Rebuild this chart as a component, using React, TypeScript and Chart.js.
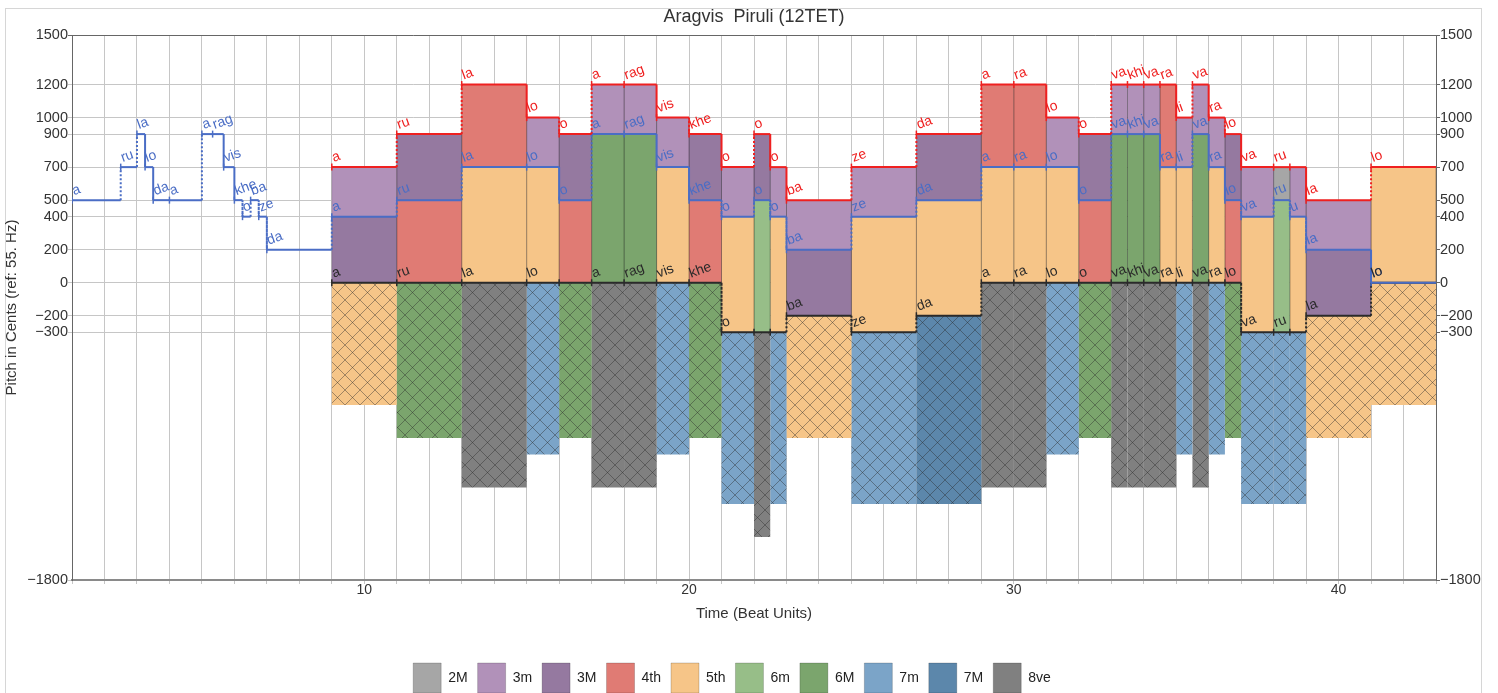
import React, { useEffect, useRef } from 'react';
import { Chart, registerables } from 'chart.js';

Chart.register(...registerables);

const FONT = '"Liberation Sans", Arial, Helvetica, sans-serif';

// ---------- data ----------
const titleText = 'Aragvis  Piruli (12TET)';

// solo melody (blue voice) before the three-voice part
const melodySyllables = ['a', 'ru', 'la', 'lo', 'da', 'a', 'a', 'rag', 'vis', 'khe', 'o', 'ba', 'ze', 'da'];
const melodyStarts = [1, 2.5, 3, 3.25, 3.5, 4, 5, 5.33, 5.67, 6, 6.25, 6.5, 6.75, 7];
const melodyCents = [500, 700, 900, 700, 500, 500, 900, 900, 700, 500, 400, 500, 400, 200];

// three-voice part
const harmonyStarts = [9, 11, 13, 15, 16, 17, 18, 19, 20, 21, 22, 22.5, 23, 25, 27, 29, 30, 31, 32, 33, 33.5, 34, 34.5, 35, 35.5, 36, 36.5, 37, 38, 38.5, 39, 41];
const harmonyEnd = 43;
const topSyllables = ['a', 'ru', 'la', 'lo', 'o', 'a', 'rag', 'vis', 'khe', 'o', 'o', 'o', 'ba', 'ze', 'da', 'a', 'ra', 'lo', 'o', 'va', 'khi', 'va', 'ra', 'li', 'va', 'ra', 'lo', 'va', 'ru', '', 'la', 'lo'];
const midSyllables = ['a', 'ru', 'la', 'lo', 'o', 'a', 'rag', 'vis', 'khe', 'o', 'o', 'o', 'ba', 'ze', 'da', 'a', 'ra', 'lo', 'o', 'va', 'khi', 'va', 'ra', 'li', 'va', 'ra', 'lo', 'va', 'ru', 'u', 'la', 'lo'];
const bottomSyllables = ['a', 'ru', 'la', 'lo', '', 'a', 'rag', 'vis', 'khe', 'o', '', '', 'ba', 'ze', 'da', 'a', 'ra', 'lo', 'o', 'va', 'khi', 'va', 'ra', 'li', 'va', 'ra', 'lo', 'va', 'ru', '', 'la', 'lo'];
const topCents = [700, 900, 1200, 1000, 900, 1200, 1200, 1000, 900, 700, 900, 700, 500, 700, 900, 1200, 1200, 1000, 900, 1200, 1200, 1200, 1200, 1000, 1200, 1000, 900, 700, 700, 700, 500, 700];
const midCents = [400, 500, 700, 700, 500, 900, 900, 700, 500, 400, 500, 400, 200, 400, 500, 700, 700, 700, 500, 900, 900, 900, 700, 700, 900, 700, 500, 400, 500, 400, 200, 0];
const bottomCents = [0, 0, 0, 0, 0, 0, 0, 0, 0, -300, -300, -300, -200, -300, -200, 0, 0, 0, 0, 0, 0, 0, 0, 0, 0, 0, 0, -300, -300, -300, -200, 0];

const intervalNames = ['2M', '3m', '3M', '4th', '5th', '6m', '6M', '7m', '7M', '8ve'];
const intervalCents = [200, 300, 400, 500, 700, 800, 900, 1000, 1100, 1200];
const intervalColors = ['#a6a6a6', '#b191b9', '#9579a0', '#e07b74', '#f6c588', '#97be88', '#7ba56d', '#7ba4c8', '#5c87ab', '#808080'];

const yTickValues = [-1800, -300, -200, 0, 200, 400, 500, 700, 900, 1000, 1200, 1500];
const xTickValues = Array.from({ length: 43 }, (_, i) => i + 1);
const xLabelValues = [10, 20, 30, 40];

// ---------- styling ----------
const RED = '#ef2020';
const BLUE = '#4a6dc5';
const BLACK = '#2a2a2a';
const HATCH_EXTRA = 40;

function stepPoints(starts: number[], values: number[], end: number) {
  const pts: { x: number; y: number }[] = [];
  for (let i = 0; i < starts.length; i++) {
    const e = i < starts.length - 1 ? starts[i + 1] : end;
    pts.push({ x: starts[i], y: values[i] });
    pts.push({ x: e, y: values[i] });
  }
  return pts;
}

function rectPoints(x0: number, x1: number, lo: number, hi: number) {
  return [
    { x: x0, y: lo },
    { x: x0, y: hi },
    { x: x1, y: hi },
    { x: x1, y: lo },
    { x: x0, y: lo },
  ];
}

function makeHatch(color: string) {
  const s = 15;
  const c = document.createElement('canvas');
  c.width = s;
  c.height = s;
  const g = c.getContext('2d')!;
  g.fillStyle = color;
  g.fillRect(0, 0, s, s);
  g.strokeStyle = 'rgba(40,40,40,0.42)';
  g.lineWidth = 1;
  g.beginPath();
  g.moveTo(-1, -1);
  g.lineTo(s + 1, s + 1);
  g.moveTo(s + 1, -1);
  g.lineTo(-1, s + 1);
  g.stroke();
  return g.createPattern(c, 'repeat');
}

const intervalIndex = (c: number) => intervalCents.indexOf(c);

const blueStarts = melodyStarts.concat(harmonyStarts);
const blueCents = melodyCents.concat(midCents);
const blueSyllables = melodySyllables.concat(midSyllables);

const voices = [
  { starts: harmonyStarts, values: topCents, syl: topSyllables, color: RED },
  { starts: blueStarts, values: blueCents, syl: blueSyllables, color: BLUE },
  { starts: harmonyStarts, values: bottomCents, syl: bottomSyllables, color: BLACK },
];

const syllablePlugin = {
  id: 'syllables',
  afterDatasetsDraw(chart: any) {
    const { ctx } = chart;
    const x = chart.scales.x;
    const y = chart.scales.y;
    ctx.save();
    ctx.font = `14px ${FONT}`;
    ctx.textAlign = 'left';
    ctx.textBaseline = 'alphabetic';
    for (const v of voices) {
      ctx.fillStyle = v.color;
      v.starts.forEach((s, i) => {
        const t = v.syl[i];
        if (!t) return;
        const px = x.getPixelForValue(s) + 2;
        const py = y.getPixelForValue(v.values[i]) - 5;
        ctx.save();
        ctx.translate(px, py);
        ctx.rotate((-20 * Math.PI) / 180);
        ctx.fillText(t, 0, 0);
        ctx.restore();
      });
    }
    ctx.restore();
  },
};

const layoutShiftPlugin = {
  id: 'layoutShift',
  afterLayout(chart: any) {
    const lg = chart.legend;
    if (lg) {
      lg.left -= 17;
      lg.right -= 17;
    }
    const tb = chart.titleBlock;
    if (tb) {
      tb.left += 5;
      tb.right += 5;
    }
  },
};

export default function App() {
  const ref = useRef<HTMLCanvasElement>(null);

  useEffect(() => {
    if (!ref.current) return;
    Chart.defaults.font.family = FONT;

    const hatches = intervalColors.map((c) => makeHatch(c));
    const datasets: any[] = [];

    // voice lines (on top)
    voices.forEach((v) => {
      datasets.push({
        type: 'line',
        data: stepPoints(v.starts, v.values, harmonyEnd),
        borderColor: v.color,
        backgroundColor: v.color,
        borderWidth: 2,
        fill: false,
        pointStyle: 'line',
        rotation: 90,
        pointRadius: (c: any) => (c.dataIndex % 2 === 0 ? 3.5 : 0),
        pointBorderColor: v.color,
        pointBorderWidth: 1.5,
        pointHoverRadius: 0,
        segment: {
          borderDash: (c: any) => (c.p0DataIndex % 2 === 1 ? [2, 2] : undefined),
        },
        order: 0,
      });
    });

    // interval blocks
    harmonyStarts.forEach((s, i) => {
      const e = i < harmonyStarts.length - 1 ? harmonyStarts[i + 1] : harmonyEnd;
      const top = topCents[i];
      const mid = midCents[i];
      const bot = bottomCents[i];
      const pairs = [
        [mid, top],
        [bot, mid],
      ];
      pairs.forEach(([lo, hi]) => {
        const k = intervalIndex(hi - lo);
        if (k < 0) return;
        datasets.push({
          type: 'line',
          data: rectPoints(s, e, lo, hi),
          fill: 'shape',
          backgroundColor: intervalColors[k],
          borderColor: 'rgba(0,0,0,0.12)',
          borderWidth: 1,
          pointRadius: 0,
          pointHoverRadius: 0,
          order: 1,
        });
      });
      const k = intervalIndex(top - bot);
      if (k >= 0) {
        datasets.push({
          type: 'line',
          data: rectPoints(s, e, bot - (top - bot) - HATCH_EXTRA, bot),
          fill: 'shape',
          backgroundColor: hatches[k],
          borderColor: 'rgba(0,0,0,0)',
          borderWidth: 1,
          pointRadius: 0,
          pointHoverRadius: 0,
          order: 2,
        });
      }
    });

    const yTickCb = (v: any) => (v < 0 ? '\u2212' + Math.abs(v) : String(v));
    const setYTicks = (axis: any) => {
      axis.ticks = yTickValues.map((v) => ({ value: v }));
    };

    const chart = new Chart(ref.current, {
      type: 'line',
      data: { datasets },
      plugins: [syllablePlugin, layoutShiftPlugin],
      options: {
        animation: false,
        responsive: false,
        maintainAspectRatio: false,
        events: [],
        layout: { padding: 0 },
        plugins: {
          title: {
            display: true,
            text: titleText,
            color: '#333',
            font: { size: 18, weight: 'normal', family: FONT },
            padding: { top: 6, bottom: 7.4 },
          },
          legend: {
            position: 'bottom',
            onClick: () => {},
            labels: {
              boxWidth: 28,
              boxHeight: 30,
              padding: 10,
              color: '#222',
              font: { size: 14, family: FONT },
              generateLabels: () =>
                intervalNames.map((n, i) => ({
                  text: n,
                  fillStyle: intervalColors[i],
                  strokeStyle: 'rgba(0,0,0,0.18)',
                  lineWidth: 1,
                  hidden: false,
                  datasetIndex: i,
                  fontColor: '#222',
                })),
            },
          },
          tooltip: { enabled: false },
        },
        scales: {
          x: {
            type: 'linear',
            position: 'bottom',
            min: 1,
            max: 43,
            afterFit: (s: any) => {
              s.height = 73;
            },
            afterBuildTicks: (axis: any) => {
              axis.ticks = xTickValues.map((v) => ({ value: v }));
            },
            ticks: {
              autoSkip: false,
              maxRotation: 0,
              padding: -2,
              color: '#333',
              font: { size: 14, family: FONT },
              callback: (v: any) => (xLabelValues.includes(v) ? String(v) : ''),
            },
            grid: { color: '#c6c6c6', lineWidth: 1, tickLength: 4 },
            border: { color: '#8a8a8a', width: 2 },
            title: {
              display: true,
              text: 'Time (Beat Units)',
              color: '#333',
              font: { size: 15, family: FONT },
              padding: { top: 0, bottom: 30 },
            },
          },
          y: {
            type: 'linear',
            position: 'left',
            min: -1800,
            max: 1500,
            afterFit: (s: any) => {
              s.width = 72;
            },
            afterBuildTicks: setYTicks,
            ticks: {
              padding: 0,
              color: '#333',
              font: { size: 14.5, family: FONT },
              callback: yTickCb,
            },
            grid: {
              color: (c: any) => (c.tick && c.tick.value === 1500 ? '#666' : '#c6c6c6'),
              lineWidth: 1,
              tickLength: 4,
            },
            border: { color: '#666', width: 1 },
            title: {
              display: true,
              text: 'Pitch in Cents (ref: 55. Hz)',
              color: '#333',
              font: { size: 15, family: FONT },
              padding: { top: 3, bottom: 0 },
            },
          },
          y2: {
            type: 'linear',
            position: 'right',
            min: -1800,
            max: 1500,
            afterFit: (s: any) => {
              s.width = 62;
            },
            afterBuildTicks: setYTicks,
            ticks: {
              padding: 0,
              color: '#333',
              font: { size: 14.5, family: FONT },
              callback: yTickCb,
            },
            grid: { drawOnChartArea: false, color: '#666', tickLength: 4 },
            border: { color: '#666', width: 1 },
          },
        },
      } as any,
    });

    return () => chart.destroy();
  }, []);

  return (
    <div
      style={{
        position: 'fixed',
        left: 0,
        top: 0,
        width: 1498,
        height: 693,
        overflow: 'hidden',
        background: '#fff',
      }}
    >
      <div
        style={{
          position: 'absolute',
          left: 5,
          top: 8,
          width: 1477,
          height: 720,
          border: '1px solid #d6d6d6',
          boxSizing: 'border-box',
        }}
      />
      <canvas
        ref={ref}
        width={1498}
        height={703}
        style={{ position: 'absolute', left: 0, top: 0, width: 1498, height: 703 }}
      />
    </div>
  );
}
